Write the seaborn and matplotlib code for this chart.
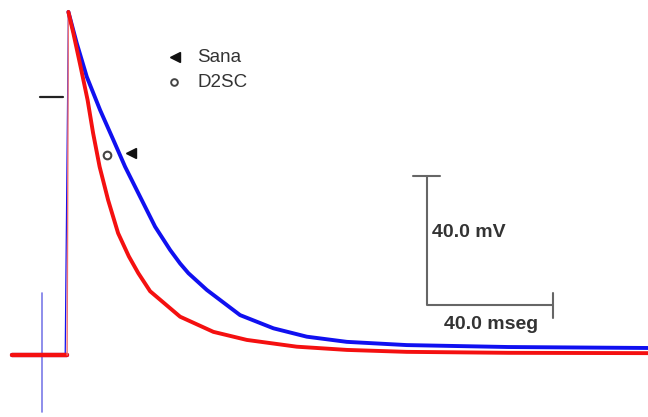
import matplotlib
matplotlib.use("Agg")
import matplotlib.pyplot as plt
import seaborn as sns
import pandas as pd

# Traces: time (ms) and membrane potential (mV)
rest_t = [-17.5, 0.0]
rest_v = [-80.0, -80.0]

sana_t = [0.41, 3.08, 6.25, 10.48, 14.7, 18.41, 23.17, 27.94, 32.7, 35.87, 38.5,
          44.35, 54.9, 65.5, 76.1, 88.8, 107.8, 140.0, 184.4]
sana_v = [26.4, 16.65, 6.29, -4.03, -13.33, -21.6, -30.9, -40.2, -47.4, -51.6, -54.6,
          -59.8, -67.6, -71.7, -74.3, -75.9, -76.9, -77.5, -77.8]

d2sc_t = [0.41, 2.0, 4.29, 6.51, 8.25, 10.32, 13.02, 16.19, 19.6, 22.6, 26.35, 35.87,
          46.44, 57.05, 72.9, 88.8, 107.8, 140.0, 184.4]
d2sc_v = [26.4, 19.75, 9.4, -0.93, -11.16, -21.6, -31.94, -42.2, -49.4, -54.6, -60.2, -68.1,
          -72.8, -75.3, -77.4, -78.4, -79.0, -79.3, -79.4]

# stimulus artifact on the Sana trace
artifact_t = [-7.9, -7.9]
artifact_v = [-60.8, -97.7]

# marker positions next to the traces
sana_mark = (20.3, -17.4)
d2sc_mark = (12.6, -18.0)

labels = ["Sana", "D2SC"]
scale_ms = 40.0
scale_mv = 40.0

blue = "#1010f0"
red = "#f41010"

sns.set_style("white")
fig = plt.figure(figsize=(6.48, 4.17), dpi=100)
ax = fig.add_axes([0, 0, 1, 1])

sana = pd.DataFrame({"t": sana_t, "v": sana_v})
d2sc = pd.DataFrame({"t": d2sc_t, "v": d2sc_v})

# Sana (blue)
ax.plot(artifact_t, artifact_v, color="#7a7ae8", lw=1.2)
ax.plot(rest_t, rest_v, color=blue, lw=3)
ax.plot([rest_t[-1] - 0.6, sana_t[0]], [rest_v[-1], sana_v[0]], color=blue, lw=0.9)
sns.lineplot(data=sana, x="t", y="v", sort=False, color=blue, lw=2.8, ax=ax)

# D2SC (red)
ax.plot(rest_t, rest_v, color=red, lw=3.2)
ax.plot([rest_t[-1], d2sc_t[0]], [rest_v[-1], d2sc_v[0]], color="#f07070", lw=1.0)
sns.lineplot(data=d2sc, x="t", y="v", sort=False, color=red, lw=2.8, ax=ax)

# 0 mV mark
ax.plot([-8.6, -1.3], [0, 0], color="#222222", lw=1.6)

# markers on the traces
ax.plot(*sana_mark, marker="<", ms=7.5, color="#111111", ls="none")
ax.plot(*d2sc_mark, marker="o", ms=5.5, mfc="white", mec="#444444", mew=1.5, ls="none")

# legend
ax.plot(34.3, 12.4, marker="<", ms=7, color="#111111", ls="none")
ax.plot(34.0, 4.65, marker="o", ms=4.8, mfc="white", mec="#444444", mew=1.4, ls="none")
ax.text(41.3, 12.4, labels[0], fontsize=13.5, color="#333333", va="center",
        family="Liberation Sans")
ax.text(41.3, 4.65, labels[1], fontsize=13.5, color="#333333", va="center",
        family="Liberation Sans")

# scale bars
x0, y0 = 114.3, -64.5
ax.plot([x0, x0, x0 + scale_ms], [y0 + scale_mv, y0, y0], color="#666666", lw=1.5)
ax.plot([x0 - 4.4, x0 + 4.1], [y0 + scale_mv] * 2, color="#666666", lw=1.5)
ax.plot([x0 + scale_ms] * 2, [y0 + 3.7, y0 - 4.0], color="#666666", lw=1.5)
ax.text(x0 + 1.6, y0 + 22.6, f"{scale_mv:.1f} mV", fontsize=14, fontweight="bold",
        color="#333333", va="center", family="Liberation Sans")
ax.text(x0 + scale_ms / 2 + 0.3, y0 - 5.9, f"{scale_ms:.1f} mseg", fontsize=14,
        fontweight="bold", color="#333333", ha="center", va="center",
        family="Liberation Sans")

ax.set_xlim(-21.3, 184.4)
ax.set_ylim(-99.2, 30.1)
ax.axis("off")

plt.savefig("out.png", dpi=100)
